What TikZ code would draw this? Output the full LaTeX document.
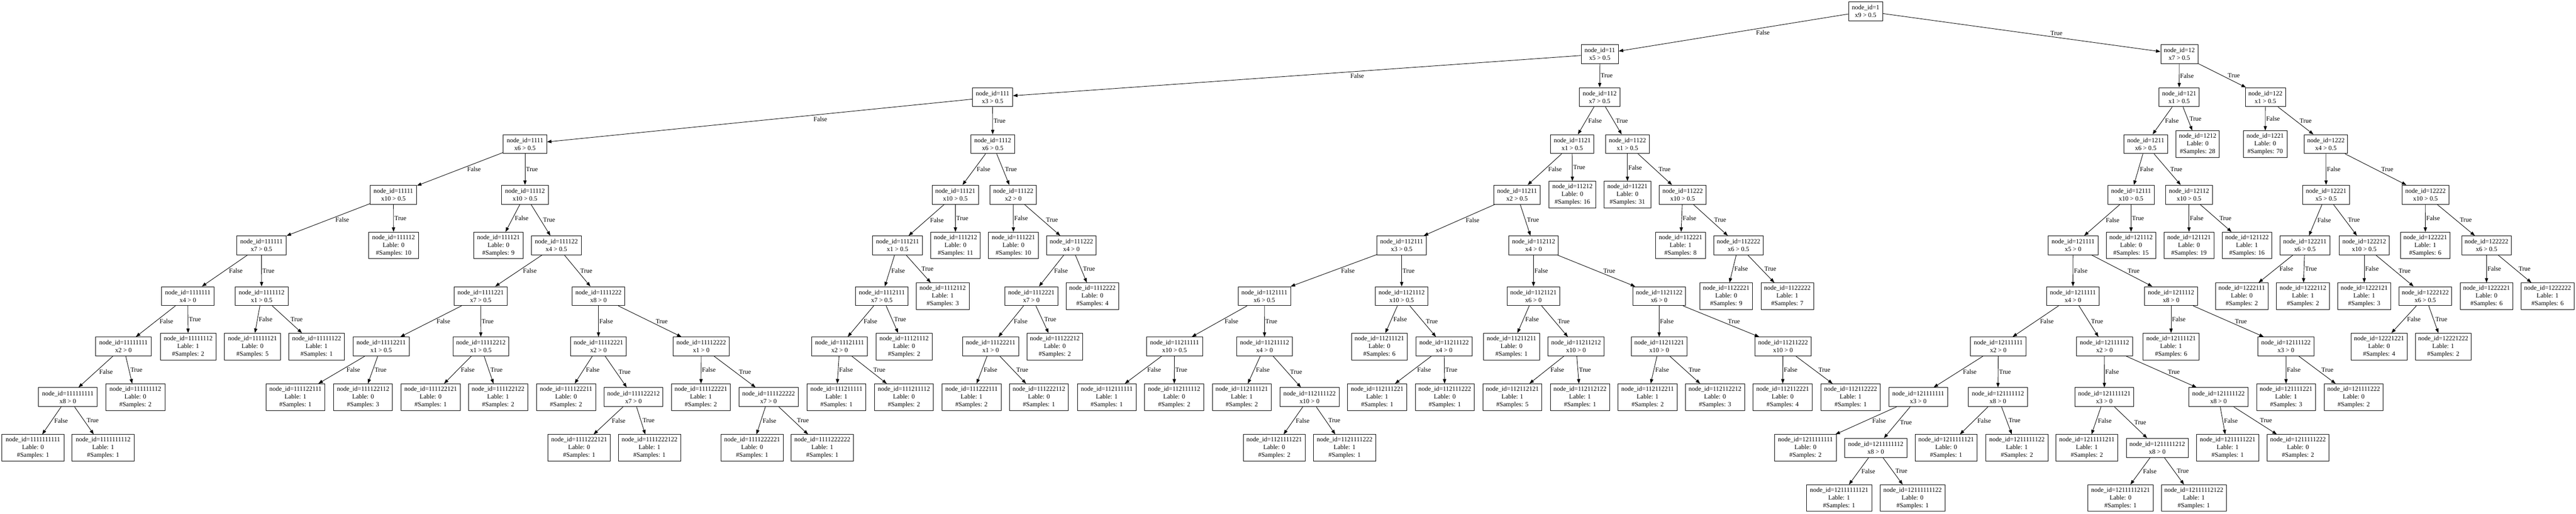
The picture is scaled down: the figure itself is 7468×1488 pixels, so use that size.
\documentclass[tikz,border=0pt]{standalone}
\usepackage{fontspec}
\setmainfont{Liberation Serif}
\usetikzlibrary{arrows.meta,calc}
\newcommand\nf{\fontsize{18.67}{22.4}\selectfont}
\newcommand\IN[5]{\node[inb, minimum width=#4pt] (n#1) at (#2,#3) {node\_id=#1\\#5};}
\newcommand\LF[6]{\node[lfb, minimum width=#4pt] (n#1) at (#2,#3) {node\_id=#1\\Lable: #5\\\#Samples: #6};}
\newcommand\E[3]{\draw[edge] let \p1=(n#1.center), \p2=(n#2.center), \n1={2+7*abs((\x2-\x1)/(\y2-\y1))} in (n#1) -- node[lbl, xshift=\n1]{#3} (n#2);}
\newcommand\EB[1]{\E{#1}{#11}{False}\E{#1}{#12}{True}}
\tikzset{
 inb/.style={draw, line width=1.33pt, minimum height=55pt, inner sep=0pt, align=center, font=\nf},
 lfb/.style={inb, minimum height=77pt},
 edge/.style={line width=1.33pt, -{Triangle[length=13pt,width=9.5pt]}},
 lbl/.style={anchor=west, inner sep=0pt, font=\nf},
}
\begin{document}
\begin{tikzpicture}[x=1pt,y=-1pt]
\path[fill=white,use as bounding box] (0,0) rectangle (7468,1488);
% L0
\IN{1}{5408.5}{32.5}{99}{x9 > 0.5}
% L1
\IN{11}{4638}{157}{108}{x5 > 0.5}
\IN{12}{6318}{157}{108}{x7 > 0.5}
% L2
\IN{111}{2877.5}{281.5}{117}{x3 > 0.5}
\IN{112}{4637.5}{281.5}{117}{x7 > 0.5}
\IN{121}{6317.5}{281.5}{117}{x1 > 0.5}
\IN{122}{6567.5}{281.5}{117}{x1 > 0.5}
% L3
\IN{1111}{1522}{417.5}{126}{x6 > 0.5}
\IN{1112}{2878}{417.5}{126}{x6 > 0.5}
\IN{1121}{4558}{417.5}{126}{x1 > 0.5}
\IN{1122}{4718}{417.5}{126}{x1 > 0.5}
\IN{1211}{6220.5}{417.5}{126}{x6 > 0.5}
\LF{1212}{6371}{417.5}{126}{0}{28}
\LF{1221}{6567}{417.5}{126}{0}{70}
\IN{1222}{6743}{417.5}{126}{x4 > 0.5}
% L4
\IN{11111}{1140.5}{564}{135}{x10 > 0.5}
\IN{11112}{1522}{564}{135}{x10 > 0.5}
\IN{11121}{2769.5}{564}{135}{x10 > 0.5}
\IN{11122}{2937.5}{564}{135}{x2 > 0}
\IN{11211}{4398}{564}{135}{x2 > 0.5}
\LF{11212}{4558.5}{564}{135}{0}{16}
\LF{11221}{4718}{564}{135}{0}{31}
\IN{11222}{4878}{564}{135}{x10 > 0.5}
\IN{12111}{6178}{564}{135}{x10 > 0.5}
\IN{12112}{6346}{564}{135}{x10 > 0.5}
\IN{12221}{6743.5}{564}{135}{x5 > 0.5}
\IN{12222}{7031.5}{564}{135}{x10 > 0.5}
% L5
\IN{111111}{758}{711}{144}{x7 > 0.5}
\LF{111112}{1141}{711}{144}{0}{10}
\LF{111121}{1445}{711}{144}{0}{9}
\IN{111122}{1613}{711}{144}{x4 > 0.5}
\IN{111211}{2602}{711}{144}{x1 > 0.5}
\LF{111212}{2770}{711}{144}{0}{11}
\LF{111221}{2938}{711}{144}{0}{10}
\IN{111222}{3106}{711}{144}{x4 > 0}
\IN{112111}{4063.5}{711}{144}{x3 > 0.5}
\IN{112112}{4446}{711}{144}{x4 > 0}
\LF{112221}{4872}{711}{144}{1}{8}
\IN{112222}{5040}{711}{144}{x6 > 0.5}
\IN{121111}{6010}{711}{144}{x5 > 0}
\LF{121112}{6178}{711}{144}{0}{15}
\LF{121121}{6346}{711}{144}{0}{19}
\LF{121122}{6514}{711}{144}{1}{16}
\IN{122211}{6682}{711}{144}{x6 > 0.5}
\IN{122212}{6854}{711}{144}{x10 > 0.5}
\LF{122221}{7031}{711}{144}{1}{6}
\IN{122222}{7208.5}{711}{144}{x6 > 0.5}
% L6
\IN{1111111}{544.5}{858}{153}{x4 > 0}
\IN{1111112}{758.5}{858}{153}{x1 > 0.5}
\IN{1111221}{1393.5}{858}{153}{x7 > 0.5}
\IN{1111222}{1735}{858}{153}{x8 > 0}
\IN{1112111}{2556.5}{858}{153}{x7 > 0.5}
\LF{1112112}{2733}{858}{153}{1}{3}
\IN{1112221}{2990}{858}{153}{x7 > 0}
\LF{1112222}{3167}{858}{153}{0}{4}
\IN{1121111}{3665.5}{858}{153}{x6 > 0.5}
\IN{1121112}{4063.5}{858}{153}{x10 > 0.5}
\IN{1121121}{4445.5}{858}{153}{x6 > 0}
\IN{1121122}{4810}{858}{153}{x6 > 0}
\LF{1122221}{5004.5}{858}{153}{0}{9}
\LF{1122222}{5181.5}{858}{153}{1}{7}
\IN{1211111}{6009.5}{858}{153}{x4 > 0}
\IN{1211112}{6294}{858}{153}{x8 > 0}
\LF{1222111}{6499}{858}{153}{0}{2}
\LF{1222112}{6676.5}{858}{153}{1}{2}
\LF{1222121}{6854}{858}{153}{1}{3}
\IN{1222122}{7031}{858}{153}{x6 > 0.5}
\LF{1222221}{7208.5}{858}{153}{0}{6}
\LF{1222222}{7385.5}{858}{153}{1}{6}
% L7
\IN{11111111}{358}{1004}{162}{x2 > 0}
\LF{11111112}{545.5}{1004}{162}{1}{2}
\LF{11111121}{732}{1004}{162}{0}{5}
\LF{11111122}{918}{1004}{162}{1}{1}
\IN{11112211}{1105}{1004}{162}{x1 > 0.5}
\IN{11112212}{1394}{1004}{162}{x1 > 0.5}
\IN{11112221}{1735}{1004}{162}{x2 > 0}
\IN{11112222}{2033}{1004}{162}{x1 > 0}
\IN{11121111}{2434}{1004}{162}{x2 > 0}
\LF{11121112}{2621}{1004}{162}{0}{2}
\IN{11122211}{2872}{1004}{162}{x1 > 0}
\LF{11122212}{3058}{1004}{162}{0}{2}
\IN{11211111}{3405}{1004}{162}{x10 > 0.5}
\IN{11211112}{3666}{1004}{162}{x4 > 0}
\LF{11211121}{3999}{1004}{162}{0}{6}
\IN{11211122}{4186.5}{1004}{162}{x4 > 0}
\LF{11211211}{4382}{1004}{162}{0}{1}
\IN{11211212}{4569}{1004}{162}{x10 > 0}
\IN{11211221}{4810}{1004}{162}{x10 > 0}
\IN{11211222}{5169}{1004}{162}{x10 > 0}
\IN{12111111}{5793}{1004}{162}{x2 > 0}
\IN{12111112}{6101}{1004}{162}{x2 > 0}
\LF{12111121}{6294}{1004}{162}{1}{6}
\IN{12111122}{6627}{1004}{162}{x3 > 0}
\LF{12221221}{6897}{1004}{162}{0}{4}
\LF{12221222}{7083}{1004}{162}{1}{2}
% L8
\IN{111111111}{196.5}{1150.5}{171}{x8 > 0}
\LF{111111112}{392.5}{1150.5}{171}{0}{2}
\LF{111122111}{856.5}{1150.5}{171}{1}{1}
\LF{111122112}{1052.5}{1150.5}{171}{0}{3}
\LF{111122121}{1248.5}{1150.5}{171}{0}{1}
\LF{111122122}{1444}{1150.5}{171}{1}{2}
\LF{111122211}{1641}{1150.5}{171}{0}{2}
\IN{111122212}{1836.5}{1150.5}{171}{x7 > 0}
\LF{111122221}{2032}{1150.5}{171}{1}{2}
\IN{111122222}{2228}{1150.5}{171}{x7 > 0}
\LF{111211111}{2425}{1150.5}{171}{1}{1}
\LF{111211112}{2620.5}{1150.5}{171}{0}{2}
\LF{111222111}{2816.5}{1150.5}{171}{1}{2}
\LF{111222112}{3012}{1150.5}{171}{0}{1}
\LF{112111111}{3208.5}{1150.5}{171}{1}{1}
\LF{112111112}{3404}{1150.5}{171}{0}{2}
\LF{112111121}{3600}{1150.5}{171}{1}{2}
\IN{112111122}{3796.5}{1150.5}{171}{x10 > 0}
\LF{112111221}{3992.5}{1150.5}{171}{1}{1}
\LF{112111222}{4188.5}{1150.5}{171}{0}{1}
\LF{112112121}{4384.5}{1150.5}{171}{1}{5}
\LF{112112122}{4580.5}{1150.5}{171}{1}{1}
\LF{112112211}{4776.5}{1150.5}{171}{1}{2}
\LF{112112212}{4972}{1150.5}{171}{0}{3}
\LF{112112221}{5168}{1150.5}{171}{0}{4}
\LF{112112222}{5365}{1150.5}{171}{1}{1}
\IN{121111111}{5561}{1150.5}{171}{x3 > 0}
\IN{121111112}{5792}{1150.5}{171}{x8 > 0}
\IN{121111121}{6100.5}{1150.5}{171}{x3 > 0}
\IN{121111122}{6431.5}{1150.5}{171}{x8 > 0}
\LF{121111221}{6627.5}{1150.5}{171}{1}{3}
\LF{121111222}{6823.5}{1150.5}{171}{0}{2}
% L9
\LF{1111111111}{95.6}{1297.5}{180}{0}{1}
\LF{1111111112}{299}{1297.5}{180}{1}{1}
\LF{1111222121}{1679}{1297.5}{180}{0}{1}
\LF{1111222122}{1883}{1297.5}{180}{1}{1}
\LF{1111222221}{2180.5}{1297.5}{180}{0}{1}
\LF{1111222222}{2384}{1297.5}{180}{1}{1}
\LF{1121111221}{3694}{1297.5}{180}{0}{2}
\LF{1121111222}{3898}{1297.5}{180}{1}{1}
\LF{1211111111}{5234}{1297.5}{180}{0}{2}
\IN{1211111112}{5438}{1297.5}{180}{x8 > 0}
\LF{1211111121}{5642}{1297.5}{180}{0}{1}
\LF{1211111122}{5847}{1297.5}{180}{1}{2}
\LF{1211111211}{6050}{1297.5}{180}{1}{2}
\IN{1211111212}{6254}{1297.5}{180}{x8 > 0}
\LF{1211111221}{6458}{1297.5}{180}{1}{1}
\LF{1211111222}{6662}{1297.5}{180}{0}{2}
% L10
\LF{12111111121}{5331.6}{1443}{189}{1}{1}
\LF{12111111122}{5544.6}{1443}{189}{0}{1}
\LF{12111112121}{6147.5}{1443}{189}{0}{1}
\LF{12111112122}{6360}{1443}{189}{1}{1}
% edges
\draw[edge] (n1) -- node[lbl, pos=0.372, anchor=north, yshift=-6pt]{False} (n11);
\draw[edge] (n1) -- node[lbl, pos=0.625, anchor=south, yshift=5pt]{True} (n12);
\draw[edge] (n11) -- node[lbl, pos=0.394, anchor=north, yshift=-6pt]{False} (n111);
\E{11}{112}{True}
\draw[edge] (n111) -- node[lbl, pos=0.357, anchor=north, yshift=-6pt]{False} (n1111);
\E{111}{1112}{True}
\EB{12}\EB{112}\EB{121}\EB{122}
\EB{1111}\EB{1112}\EB{1121}\EB{1122}\EB{1211}\EB{1222}
\EB{11111}\EB{11112}\EB{11121}\EB{11122}\EB{11211}\EB{11222}\EB{12111}\EB{12112}\EB{12221}\EB{12222}
\EB{111111}\EB{111122}\EB{111211}\EB{111222}\EB{112111}\EB{112112}\EB{112222}\EB{121111}\EB{122211}\EB{122212}\EB{122222}
\EB{1111111}\EB{1111112}\EB{1111221}\EB{1111222}\EB{1112111}\EB{1112221}\EB{1121111}\EB{1121112}\EB{1121121}\EB{1121122}\EB{1211111}\EB{1211112}\EB{1222122}
\EB{11111111}\EB{11112211}\EB{11112212}\EB{11112221}\EB{11112222}\EB{11121111}\EB{11122211}\EB{11211111}\EB{11211112}\EB{11211122}\EB{11211212}\EB{11211221}\EB{11211222}\EB{12111111}\EB{12111112}\EB{12111122}
\EB{111111111}\EB{111122212}\EB{111122222}\EB{112111122}\EB{121111111}\EB{121111112}\EB{121111121}\EB{121111122}
\EB{1211111112}\EB{1211111212}
\end{tikzpicture}
\end{document}
